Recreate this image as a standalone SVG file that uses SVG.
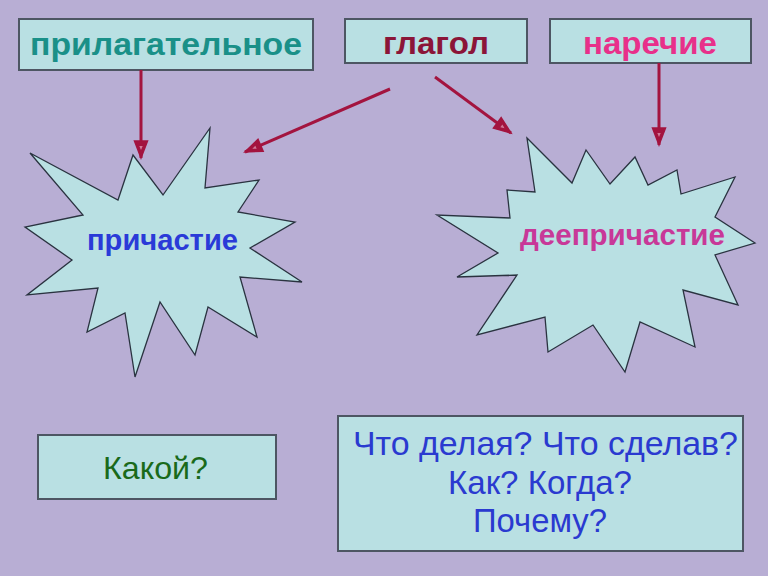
<svg xmlns="http://www.w3.org/2000/svg" width="768" height="576" viewBox="0 0 768 576">
<style>
.box{fill:#b9e0e3;stroke:#4d5663;stroke-width:2}
.star{fill:#b9e0e3;stroke:#2a3340;stroke-width:1.3;stroke-linejoin:miter}
.b{font-family:"Liberation Sans",Arial,sans-serif;font-weight:bold}
.r{font-family:"Liberation Sans",Arial,sans-serif}
.conn{stroke:#a3143f;stroke-width:3;fill:none}
</style>
<defs>
<marker id="ah" markerUnits="userSpaceOnUse" markerWidth="22" markerHeight="20" refX="19" refY="8" orient="auto">
<path d="M2,1.5 L19,8 L2,14.5 Z" fill="#a3143f" stroke="#a3143f" stroke-width="1.5" stroke-linejoin="miter"/>
<path d="M7,6.3 L11,8 L7,9.7 Z" fill="#d07a98"/>
</marker>
</defs>
<rect width="768" height="576" fill="#b8aed4"/>
<g id="node-prilagatelnoe">
<rect class="box" x="19" y="19" width="294" height="51"/>
<text class="b" x="166" y="55" font-size="32" fill="#1a9088" text-anchor="middle" textLength="272" lengthAdjust="spacingAndGlyphs">прилагательное</text>
</g>
<g id="node-glagol">
<rect class="box" x="345" y="19" width="182" height="44"/>
<text class="b" x="436" y="54" font-size="32" fill="#8b1538" text-anchor="middle" textLength="106" lengthAdjust="spacingAndGlyphs">глагол</text>
</g>
<g id="node-narechie">
<rect class="box" x="550" y="19" width="201" height="44"/>
<text class="b" x="650" y="54" font-size="32" fill="#e8308a" text-anchor="middle" textLength="134" lengthAdjust="spacingAndGlyphs">наречие</text>
</g>
<g id="node-prichastie">
<polygon class="star" points="210,128 205,188 259,180 238,212 295,222 250,248 302,282 240,277 257,337 208,307 195,355 160,302 135,377 125,313 87,332 98,288 27,295 72,260 25,227 83,215 30,153 118,200 133,155 163,195"/>
<text class="b" x="162.5" y="250" font-size="29" fill="#2a3ad8" text-anchor="middle" textLength="151" lengthAdjust="spacingAndGlyphs">причастие</text>
</g>
<g id="node-deeprichastie">
<polygon class="star" points="527,138 572,183 586,150 610,184 635,157 648,185 677,170 681,194 735,177 715,217 755,243 715,255 738,305 683,290 695,347 640,322 625,372 593,325 548,352 545,317 477,335 517,275 457,277 498,253 437,215 510,218 507,190 535,192"/>
<text class="b" x="622.5" y="245" font-size="30" fill="#c83898" text-anchor="middle" textLength="205" lengthAdjust="spacingAndGlyphs">деепричастие</text>
</g>
<g id="node-kakoy">
<rect class="box" x="38" y="435" width="238" height="64"/>
<text class="r" x="155.5" y="479" font-size="32" fill="#1a6a1a" text-anchor="middle" textLength="105" lengthAdjust="spacingAndGlyphs">Какой?</text>
</g>
<g id="node-questions">
<rect class="box" x="338" y="416" width="405" height="135"/>
<text class="r" font-size="33" fill="#2a3ad0" text-anchor="middle">
<tspan x="545.5" y="455" textLength="385" lengthAdjust="spacingAndGlyphs">Что делая? Что сделав?</tspan>
</text>
<text class="r" font-size="33" fill="#2a3ad0" text-anchor="middle">
<tspan x="540" y="493.5" textLength="184" lengthAdjust="spacingAndGlyphs">Как? Когда?</tspan>
</text>
<text class="r" font-size="33" fill="#2a3ad0" text-anchor="middle">
<tspan x="540" y="532" textLength="134" lengthAdjust="spacingAndGlyphs">Почему?</tspan>
</text>
</g>
<g id="connectors">
<line class="conn" x1="141" y1="70" x2="141" y2="158" marker-end="url(#ah)"/>
<line class="conn" x1="390" y1="89" x2="245" y2="152" marker-end="url(#ah)"/>
<line class="conn" x1="435" y1="77" x2="511" y2="133" marker-end="url(#ah)"/>
<line class="conn" x1="659" y1="63" x2="659" y2="145" marker-end="url(#ah)"/>
</g>
</svg>
